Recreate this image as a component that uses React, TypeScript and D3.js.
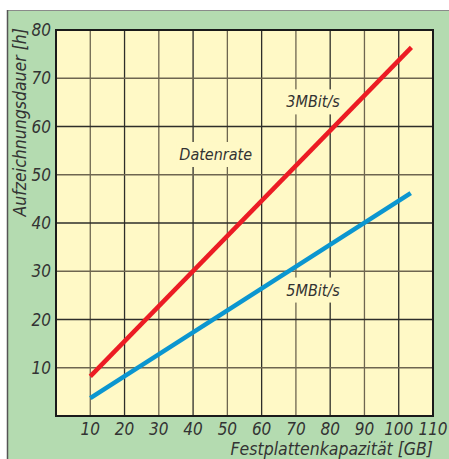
import React, { useEffect, useRef } from "react";
import * as d3 from "d3";

const xTicks = [10, 20, 30, 40, 50, 60, 70, 80, 90, 100, 110];
const yTicks = [10, 20, 30, 40, 50, 60, 70, 80];
const rate3Mbit = [
  { gb: 10, h: 8.2 },
  { gb: 103.7, h: 76.4 },
];
const rate5Mbit = [
  { gb: 10, h: 3.7 },
  { gb: 103.5, h: 46.2 },
];
const annotations = [
  { text: "3MBit/s", gb: 75, h: 65.1 },
  { text: "Datenrate", gb: 46.6, h: 54.2 },
  { text: "5MBit/s", gb: 75, h: 26.1 },
];
const xTitle = "Festplattenkapazität [GB]";
const yTitle = "Aufzeichnungsdauer [h]";

const W = 449;
const H = 459;
const FONT = "'Liberation Sans Narrow', 'DejaVu Sans Condensed', Roboto, sans-serif";

export default function App() {
  const ref = useRef<SVGSVGElement | null>(null);

  useEffect(() => {
    const svg = d3.select(ref.current!);
    svg.selectAll("*").remove();

    const left = 56, top = 30, right = 433, bottom = 416;
    const x = d3.scaleLinear().domain([0, 110]).range([left, right]);
    const y = d3.scaleLinear().domain([0, 80]).range([bottom, top]);

    // outer background
    svg.append("rect").attr("x", 7).attr("y", 10).attr("width", W - 7).attr("height", H - 10).attr("fill", "#b4dbb0");
    svg.append("line").attr("x1", 7).attr("x2", W).attr("y1", 10.5).attr("y2", 10.5).attr("stroke", "#8a8a8a").attr("stroke-width", 1);
    svg.append("line").attr("x1", 7.5).attr("x2", 7.5).attr("y1", 10).attr("y2", H).attr("stroke", "#555").attr("stroke-width", 1.5);

    // plot area
    svg.append("rect").attr("x", left).attr("y", top).attr("width", right - left).attr("height", bottom - top).attr("fill", "#fff9c6");

    const grid = svg.append("g");
    xTicks.filter((t) => t < 110).forEach((t, i) => {
      grid.append("line").attr("x1", x(t)).attr("x2", x(t)).attr("y1", top).attr("y2", bottom)
        .attr("stroke", i % 2 === 0 ? "#6e6650" : "#2e2e2a").attr("stroke-width", 1.3);
    });
    yTicks.filter((t) => t < 80).forEach((t, i) => {
      grid.append("line").attr("x1", left).attr("x2", right).attr("y1", y(t)).attr("y2", y(t))
        .attr("stroke", i % 2 === 0 ? "#6e6650" : "#2e2e2a").attr("stroke-width", 1.3);
    });

    svg.append("rect").attr("x", left).attr("y", top).attr("width", right - left).attr("height", bottom - top)
      .attr("fill", "none").attr("stroke", "#1a1a1a").attr("stroke-width", 2);

    // annotations with background
    annotations.forEach((a) => {
      const g = svg.append("g");
      const t = g.append("text").attr("x", x(a.gb)).attr("y", y(a.h)).attr("text-anchor", "middle")
        .attr("dominant-baseline", "central").attr("font-family", FONT).attr("font-style", "italic")
        .attr("font-size", 16).attr("fill", "#333").text(a.text);
      const bb = (t.node() as SVGTextElement).getBBox();
      g.insert("rect", "text").attr("x", bb.x - 3).attr("y", bb.y - 3).attr("width", bb.width + 6)
        .attr("height", bb.height + 6).attr("fill", "#fff9c6");
    });

    const line = d3.line<{ gb: number; h: number }>().x((d) => x(d.gb)).y((d) => y(d.h));
    svg.append("path").datum(rate5Mbit).attr("d", line).attr("fill", "none").attr("stroke", "#0b96d0").attr("stroke-width", 4.5);
    svg.append("path").datum(rate3Mbit).attr("d", line).attr("fill", "none").attr("stroke", "#ec1c24").attr("stroke-width", 4.5);

    // tick labels
    xTicks.forEach((t) => {
      svg.append("text").attr("x", x(t)).attr("y", 429).attr("text-anchor", "middle").attr("dominant-baseline", "central")
        .attr("font-family", FONT).attr("font-style", "italic").attr("font-size", 17).attr("fill", "#333").text(String(t));
    });
    yTicks.forEach((t) => {
      svg.append("text").attr("x", 51).attr("y", y(t)).attr("text-anchor", "end").attr("dominant-baseline", "central")
        .attr("font-family", FONT).attr("font-style", "italic").attr("font-size", 17).attr("fill", "#333").text(String(t));
    });

    svg.append("text").attr("x", right).attr("y", 455).attr("text-anchor", "end")
      .attr("font-family", FONT).attr("font-style", "italic").attr("font-size", 17.5).attr("fill", "#333").text(xTitle);
    svg.append("text").attr("transform", `translate(26,28) rotate(-90)`).attr("text-anchor", "end")
      .attr("font-family", FONT).attr("font-style", "italic").attr("font-size", 17.5).attr("fill", "#333").text(yTitle);
  }, []);

  return (
    <svg ref={ref} width={W} height={H} style={{ position: "absolute", left: 0, top: 0 }} />
  );
}
